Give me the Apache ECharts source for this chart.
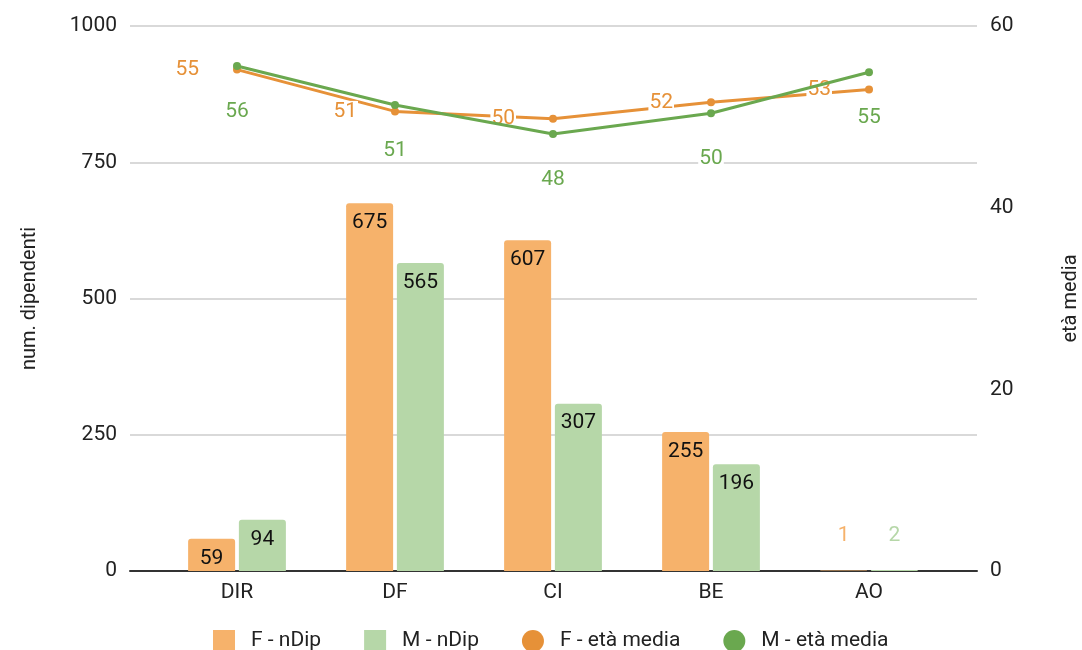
<!DOCTYPE html>
<html><head><meta charset="utf-8">
<script src="https://cdn.jsdelivr.net/npm/echarts@6/dist/echarts.min.js"></script>
<style>html,body{margin:0;padding:0;background:#fff}#c{width:1082px;height:650px}</style>
</head><body><div id="c"></div>
<script>
const categories = ['DIR', 'DF', 'CI', 'BE', 'AO'];
const fNDip = [59, 675, 607, 255, 1];
const mNDip = [94, 565, 307, 196, 2];
const fEta = [55.2, 50.6, 49.8, 51.6, 53.0];
const mEta = [55.6, 51.3, 48.1, 50.4, 54.9];
const leftTicks = { min: 0, max: 1000, interval: 250 };
const rightTicks = { min: 0, max: 60, interval: 20 };
const names = ['F - nDip', 'M - nDip', 'F - età media', 'M - età media'];

const C = { fBar: '#f6b26b', mBar: '#b6d7a8', fLine: '#e69138', mLine: '#6aa84f' };
const font = 'Roboto, "Noto Sans", sans-serif';
const FS = 21;

function barData(vals, color) {
  return vals.map(v => v < 20 ? {
    value: v,
    label: { position: 'top', distance: 24, color: color, fontSize: FS }
  } : v);
}

const chart = echarts.init(document.getElementById('c'));
chart.setOption({
  animation: false,
  textStyle: { fontFamily: font },
  grid: [
    { left: 130, right: 105, top: 26, bottom: 79, outerBoundsMode: 'none', containLabel: false },
    { left: 158, right: 134, top: 26, bottom: 79, outerBoundsMode: 'none', containLabel: false }
  ],
  legend: {
    top: 625, left: 208,
    itemWidth: 22, itemHeight: 22, itemGap: 43,
    textStyle: { fontSize: FS, color: '#222', fontFamily: font, padding: [0, 0, 0, 11] },
    data: [
      { name: names[0], icon: 'rect' },
      { name: names[1], icon: 'rect' },
      { name: names[2], icon: 'circle' },
      { name: names[3], icon: 'circle' }
    ]
  },
  xAxis: [
    { gridIndex: 0, type: 'category', data: categories,
      axisLine: { show: true, lineStyle: { color: '#333', width: 2 } },
      axisTick: { show: false }, axisLabel: { show: false } },
    { gridIndex: 1, type: 'category', data: categories,
      axisLine: { show: false }, axisTick: { show: false },
      axisLabel: { fontSize: FS, color: '#222', margin: 11, fontFamily: font } }
  ],
  yAxis: [
    { gridIndex: 0, type: 'value', position: 'left', ...leftTicks,
      name: 'num. dipendenti', nameLocation: 'middle', nameGap: 90, nameRotate: 90,
      nameTextStyle: { fontSize: FS - 1, color: '#222', fontFamily: font },
      axisLine: { show: false }, axisTick: { show: false },
      axisLabel: { fontSize: FS, color: '#222', margin: 13, fontFamily: font, formatter: v => String(v) },
      splitLine: { lineStyle: { color: '#cccccc', width: 1.5 } } },
    { gridIndex: 0, type: 'value', position: 'right', ...rightTicks,
      name: 'età media', nameLocation: 'middle', nameGap: 84, nameRotate: 90,
      nameTextStyle: { fontSize: FS - 1, color: '#222', fontFamily: font },
      axisLine: { show: false }, axisTick: { show: false },
      axisLabel: { fontSize: FS, color: '#222', margin: 13, fontFamily: font },
      splitLine: { show: false } },
    { gridIndex: 1, type: 'value', ...leftTicks, show: false, splitLine: { show: false } },
    { gridIndex: 1, type: 'value', position: 'right', ...rightTicks, show: false, splitLine: { show: false } }
  ],
  series: [
    { name: names[0], type: 'bar', xAxisIndex: 1, yAxisIndex: 2,
      data: barData(fNDip, C.fBar), barWidth: 47, barGap: '8%',
      itemStyle: { color: C.fBar, borderRadius: [3, 3, 0, 0] },
      label: { show: true, position: 'insideTop', distance: 9, fontSize: FS, color: '#111' } },
    { name: names[1], type: 'bar', xAxisIndex: 1, yAxisIndex: 2,
      data: barData(mNDip, C.mBar), barWidth: 47, barGap: '8%',
      itemStyle: { color: C.mBar, borderRadius: [3, 3, 0, 0] },
      label: { show: true, position: 'insideTop', distance: 9, fontSize: FS, color: '#111' } },
    { name: names[2], type: 'line', xAxisIndex: 1, yAxisIndex: 3, data: fEta, z: 4,
      symbol: 'circle', symbolSize: 8,
      lineStyle: { color: C.fLine, width: 3 }, itemStyle: { color: C.fLine },
      label: { show: true, position: 'left', distance: 33, fontSize: FS, color: C.fLine,
        backgroundColor: '#fff', padding: [0, 1],
        formatter: p => Math.round(p.value) } },
    { name: names[3], type: 'line', xAxisIndex: 1, yAxisIndex: 3, data: mEta, z: 5,
      symbol: 'circle', symbolSize: 8,
      lineStyle: { color: C.mLine, width: 3 }, itemStyle: { color: C.mLine },
      label: { show: true, position: 'bottom', distance: 31, fontSize: FS, color: C.mLine,
        backgroundColor: '#fff', padding: [0, 1],
        formatter: p => Math.round(p.value) } }
  ]
});
</script></body></html>
